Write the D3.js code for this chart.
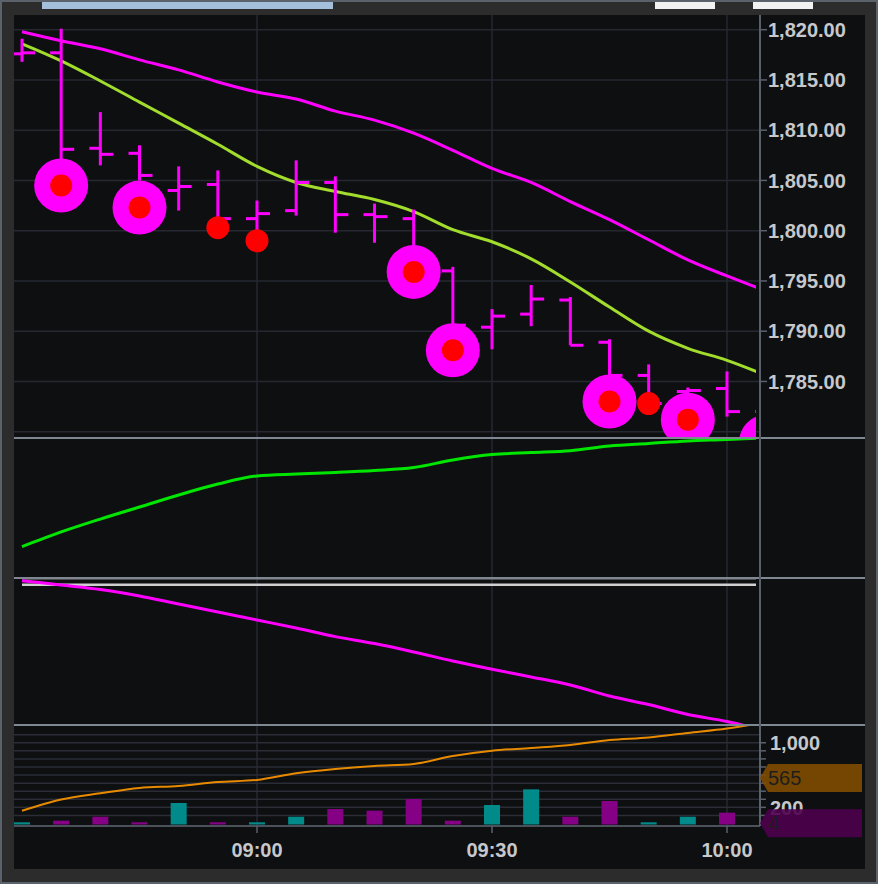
<!DOCTYPE html>
<html>
<head>
<meta charset="utf-8">
<script src="https://cdn.jsdelivr.net/npm/d3@7"></script>
<style>
  body { margin: 0; background: #2c2c2c; }
  svg { display: block; }
</style>
</head>
<body>
<script>
// chart size
const w = 878;
const h = 884;

// 5 minute bars, 08:30 -> 10:05
const times = ["08:30","08:35","08:40","08:45","08:50","08:55","09:00","09:05","09:10","09:15",
               "09:20","09:25","09:30","09:35","09:40","09:45","09:50","09:55","10:00","10:05"];
const open  = [1817.6,1817.7,1808.2,1807.7,1804.0,1804.6,1801.2,1802.0,1804.8,1801.6,
               1801.2,1796.0,1790.4,1791.7,1793.1,1788.9,1785.6,1784.0,1784.3,1782.0];
const high  = [1819.1,1820.1,1811.8,1808.5,1806.4,1806.0,1803.0,1807.0,1805.4,1802.7,
               1802.1,1796.4,1792.2,1794.6,1793.4,1789.2,1786.7,1784.4,1786.0,1782.6];
const low   = [1816.8,1806.5,1806.5,1805.0,1802.0,1801.3,1800.0,1801.5,1799.8,1798.8,
               1797.0,1790.0,1788.2,1790.5,1788.6,1784.8,1783.3,1782.8,1781.5,1779.5];
const close = [1817.7,1808.1,1807.6,1805.5,1804.4,1801.2,1801.7,1804.8,1801.6,1801.4,
               1797.2,1790.6,1791.5,1793.2,1788.6,1785.6,1782.8,1784.1,1782.0,1780.0];

// moving averages on the price panel
const maSlow = [1819.8,1818.9,1818.1,1817.0,1816.0,1814.8,1813.8,1813.1,1811.9,1811.0,
                1809.7,1808.0,1806.2,1804.8,1802.9,1801.1,1799.1,1797.1,1795.5,1794.0];
const maFast = [1818.6,1816.9,1814.9,1812.8,1810.7,1808.6,1806.4,1804.8,1803.9,1803.1,
                1801.9,1800.1,1798.9,1797.2,1794.9,1792.4,1790.0,1788.3,1787.1,1785.6];

// signal markers (bar index, price)
const bigMarkIdx = [1, 3, 10, 11, 15, 17, 19];
const bigMarkVal = [1804.5, 1802.3, 1795.9, 1788.1, 1783.0, 1781.2, 1779.0];
const dotMarkIdx = [5, 6, 16];
const dotMarkVal = [1800.3, 1799.0, 1782.8];

// indicator panels
const ind1 = [22.4,32.9,42.1,50.7,59.3,67.1,72.9,74.3,75.4,76.8,
              78.9,84.3,88.2,89.6,90.9,94.3,96.1,97.9,98.9,100.2];
const ind2 = [98.2,95.2,92.2,87.8,82.3,76.9,71.4,66.0,60.1,55.4,
              49.7,43.5,37.9,32.7,27.2,19.7,13.9,7.1,2.4,-4.1];
const ind2Upper = 100.3;
const ind2Level = 95.4;

// volume
const volume = [15,35,84,15,254,15,15,84,180,159,303,35,229,423,84,279,15,84,134,4];
const volDir = ["up","down","down","down","up","down","up","up","down","down",
                "down","down","up","up","down","down","up","up","down","down"];
const volLine = [158,297,374,440,464,514,539,622,675,712,737,836,902,935,972,1034,1065,1121,1176,1257];

// axis labels
const priceTicks = [1820,1815,1810,1805,1800,1795,1790,1785];
const priceGrid = [1820,1815,1810,1805,1800,1795,1790,1785,1780];
const volTickLabels = [1000, 200];
const volGrid = [100,200,300,400,500,600,700,800,900,1000,1100];
const timeTicks = ["09:00","09:30","10:00"];
const badges = [{ v: 565, text: "565", fill: "#7f4c00" }, { v: 4, text: "4", fill: "#4e004e" }];

const parseT = d3.timeParse("%H:%M");
const dates = times.map(parseT);

// layout
const left = 14, axisX = 760, clipRight = 756;
const panels = { main: [15, 438], p2: [438, 578], p3: [578, 725], vol: [725, 826] };

const svg = d3.select("body").append("svg").attr("width", w).attr("height", h);

// frame
svg.append("rect").attr("width", w).attr("height", h).attr("fill", "#2c2c2c");
svg.append("rect").attr("x", 1).attr("y", 1).attr("width", w - 2).attr("height", h - 2)
  .attr("fill", "none").attr("stroke", "#5c626b").attr("stroke-width", 2);
svg.append("rect").attr("x", left).attr("y", 15).attr("width", 851).attr("height", 854).attr("fill", "#0e0f11");
// scrollbar pieces on the top edge
svg.append("rect").attr("x", 42).attr("y", 2).attr("width", 291).attr("height", 7).attr("fill", "#a3bfdc");
svg.append("rect").attr("x", 655).attr("y", 2).attr("width", 60).attr("height", 7).attr("fill", "#f2f2f2");
svg.append("rect").attr("x", 753).attr("y", 2).attr("width", 60).attr("height", 7).attr("fill", "#f2f2f2");

// scales
const xScale = d3.scaleTime().domain([parseT("08:30"), parseT("10:00")]).range([22, 727]);
const yMain = d3.scaleLinear().domain([1780, 1820]).range([431.7, 29.7]);
const yP2 = d3.scaleLinear().domain([0, 100]).range([578, 438]);
const yP3 = d3.scaleLinear().domain([0, 100]).range([725, 578]);
const yVol = d3.scaleLinear().domain([0, 1000]).range([823.5, 742.75]);

// clip paths per panel
const defs = svg.append("defs");
Object.keys(panels).forEach(function (k) {
  defs.append("clipPath").attr("id", "clip-" + k)
    .append("rect").attr("x", left).attr("y", panels[k][0])
    .attr("width", clipRight - left).attr("height", panels[k][1] - panels[k][0]);
});

const gridColor = "#252830";

// vertical grid through all panels
svg.append("g").selectAll("line").data(timeTicks.map(parseT)).enter().append("line")
  .attr("x1", d => xScale(d)).attr("x2", d => xScale(d))
  .attr("y1", 15).attr("y2", 826)
  .attr("stroke", gridColor).attr("stroke-width", 1.5);

// horizontal grid, price panel
svg.append("g").selectAll("line").data(priceGrid).enter().append("line")
  .attr("x1", left).attr("x2", axisX).attr("y1", d => yMain(d)).attr("y2", d => yMain(d))
  .attr("stroke", gridColor).attr("stroke-width", 1.5);

// horizontal grid, volume panel
svg.append("g").selectAll("line").data(volGrid).enter().append("line")
  .attr("x1", left).attr("x2", axisX).attr("y1", d => yVol(d)).attr("y2", d => yVol(d))
  .attr("stroke", "#2a2d35").attr("stroke-width", 1.5);

const curve = d3.curveMonotoneX;
function drawLine(g, values, y, color, width) {
  const line = d3.line().x((d, i) => xScale(dates[i])).y(d => y(d)).curve(curve);
  g.append("path").datum(values).attr("d", line)
    .attr("fill", "none").attr("stroke", color).attr("stroke-width", width);
}

// ---- price panel
const gMain = svg.append("g").attr("clip-path", "url(#clip-main)");
drawLine(gMain, maSlow, yMain, "#ff00ff", 3);
drawLine(gMain, maFast, yMain, "#a2dc2c", 3);

const bars = gMain.append("g").attr("stroke", "#ff00ff").attr("stroke-width", 3);
dates.forEach(function (d, i) {
  const x = xScale(d);
  bars.append("line").attr("x1", x).attr("x2", x).attr("y1", yMain(high[i])).attr("y2", yMain(low[i]));
  bars.append("line").attr("x1", x - 11).attr("x2", x).attr("y1", yMain(open[i])).attr("y2", yMain(open[i]));
  bars.append("line").attr("x1", x).attr("x2", x + 13).attr("y1", yMain(close[i])).attr("y2", yMain(close[i]));
});

const marks = gMain.append("g");
bigMarkIdx.forEach(function (idx, k) {
  const cx = xScale(dates[idx]), cy = yMain(bigMarkVal[k]);
  marks.append("circle").attr("cx", cx).attr("cy", cy).attr("r", 27).attr("fill", "#ff00ff");
  marks.append("circle").attr("cx", cx).attr("cy", cy).attr("r", 11).attr("fill", "#ff0000");
});
dotMarkIdx.forEach(function (idx, k) {
  marks.append("circle").attr("cx", xScale(dates[idx])).attr("cy", yMain(dotMarkVal[k]))
    .attr("r", 11.5).attr("fill", "#ff0000");
});

// ---- indicator panel 1
const gP2 = svg.append("g").attr("clip-path", "url(#clip-p2)");
drawLine(gP2, ind1, yP2, "#00e600", 3);

// ---- indicator panel 2
const gP3 = svg.append("g").attr("clip-path", "url(#clip-p3)");
gP3.append("line").attr("x1", xScale(dates[0])).attr("x2", clipRight)
  .attr("y1", yP3(ind2Upper)).attr("y2", yP3(ind2Upper)).attr("stroke", "#8a8a8a").attr("stroke-width", 4);
gP3.append("line").attr("x1", xScale(dates[0])).attr("x2", clipRight)
  .attr("y1", yP3(ind2Level)).attr("y2", yP3(ind2Level)).attr("stroke", "#cfcfcf").attr("stroke-width", 2.5);
drawLine(gP3, ind2, yP3, "#ff00ff", 3);

// ---- volume panel
const gVol = svg.append("g").attr("clip-path", "url(#clip-vol)");
gVol.selectAll("rect").data(volume).enter().append("rect")
  .attr("x", (d, i) => xScale(dates[i]) - 8)
  .attr("y", d => yVol(d))
  .attr("width", 16)
  .attr("height", d => yVol(0) - yVol(d) + 1)
  .attr("fill", (d, i) => volDir[i] === "up" ? "#008a8a" : "#850085");
drawLine(gVol, volLine, yVol, "#e88a00", 2);

// panel separators and right axis line
[panels.main[1], panels.p2[1], panels.p3[1]].forEach(function (y) {
  svg.append("line").attr("x1", left).attr("x2", 865).attr("y1", y).attr("y2", y)
    .attr("stroke", "#7f8792").attr("stroke-width", 2);
});
svg.append("line").attr("x1", left).attr("x2", axisX).attr("y1", 826).attr("y2", 826)
  .attr("stroke", "#4b515b").attr("stroke-width", 2);
svg.append("line").attr("x1", axisX).attr("x2", axisX).attr("y1", 15).attr("y2", 826)
  .attr("stroke", "#5a616d").attr("stroke-width", 2);

const labelFont = "'Liberation Sans', Arial, sans-serif";

// price axis
const gPrice = svg.append("g");
gPrice.selectAll("line").data(priceTicks).enter().append("line")
  .attr("x1", axisX).attr("x2", axisX + 7).attr("y1", d => yMain(d)).attr("y2", d => yMain(d))
  .attr("stroke", "#5a616d").attr("stroke-width", 1.5);
gPrice.selectAll("text").data(priceTicks).enter().append("text")
  .attr("x", 768).attr("y", d => yMain(d)).attr("dy", "0.36em")
  .attr("font-family", labelFont).attr("font-size", 20).attr("font-weight", "bold")
  .attr("fill", "#c6c8cc").text(d3.format(",.2f"));

// volume axis
const gVAxis = svg.append("g");
gVAxis.selectAll("line").data(volGrid.filter(d => d <= 1000)).enter().append("line")
  .attr("x1", axisX).attr("x2", axisX + 6).attr("y1", d => yVol(d)).attr("y2", d => yVol(d))
  .attr("stroke", "#5a616d").attr("stroke-width", 1.5);
gVAxis.selectAll("text").data(volTickLabels).enter().append("text")
  .attr("x", 770).attr("y", d => yVol(d)).attr("dy", "0.36em")
  .attr("font-family", labelFont).attr("font-size", 20).attr("font-weight", "bold")
  .attr("fill", "#c6c8cc").text(d3.format(","));

// value badges (the lower one sits over the 200 label, as in the source)
badges.forEach(function (b) {
  const y = yVol(b.v);
  svg.append("path")
    .attr("d", "M" + axisX + "," + y + "L" + (axisX + 8) + "," + (y - 14) + "L862," + (y - 14) +
               "L862," + (y + 14) + "L" + (axisX + 8) + "," + (y + 14) + "Z")
    .attr("fill", b.fill).attr("opacity", 0.9);
  svg.append("text").attr("x", 768).attr("y", y).attr("dy", "0.36em")
    .attr("font-family", labelFont).attr("font-size", 20)
    .attr("fill", "#1e1e1e").text(b.text);
});

// time axis
const gTime = svg.append("g");
gTime.selectAll("line").data(timeTicks.map(parseT)).enter().append("line")
  .attr("x1", d => xScale(d)).attr("x2", d => xScale(d)).attr("y1", 826).attr("y2", 833)
  .attr("stroke", "#5a616d").attr("stroke-width", 1.5);
gTime.selectAll("text").data(timeTicks.map(parseT)).enter().append("text")
  .attr("x", d => xScale(d)).attr("y", 850).attr("dy", "0.36em").attr("text-anchor", "middle")
  .attr("font-family", labelFont).attr("font-size", 20).attr("font-weight", "bold")
  .attr("fill", "#c6c8cc").text(d3.timeFormat("%H:%M"));
</script>
</body>
</html>
